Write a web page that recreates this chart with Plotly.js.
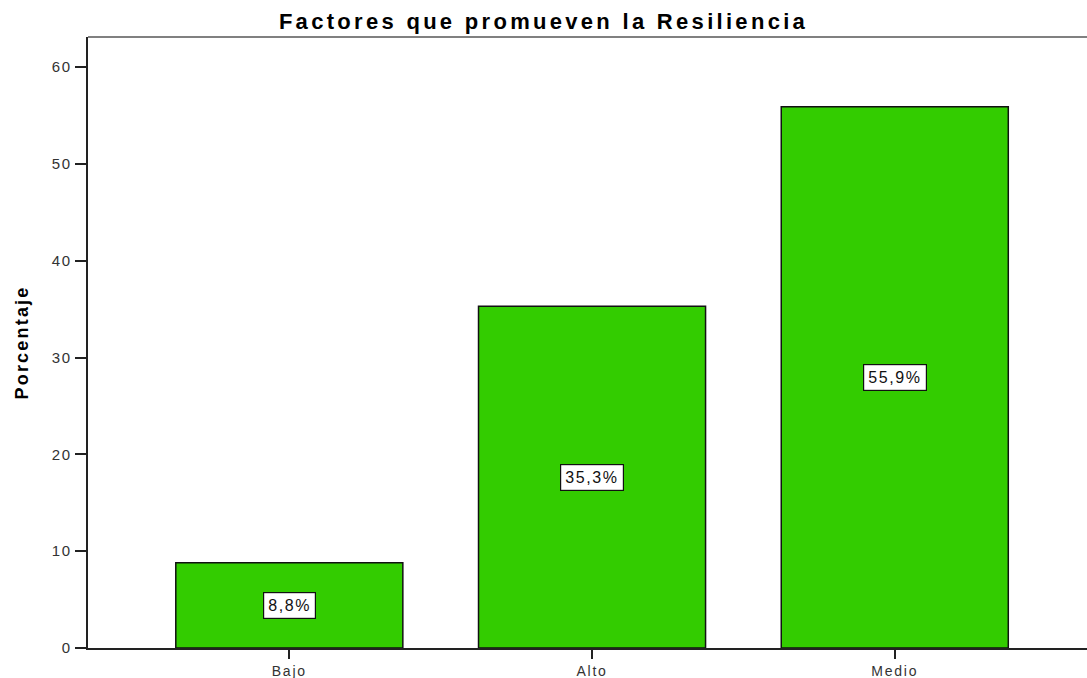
<!DOCTYPE html>
<html>
<head>
<meta charset="utf-8">
<script src="https://cdn.plot.ly/plotly-3.0.1.min.js"></script>
<style>
html,body{margin:0;padding:0;background:#fff;}
#chart{width:1087px;height:678px;}
.gtitle{letter-spacing:3.3px;}
.ytitle{letter-spacing:2.2px;}
.xtick text,.ytick text{letter-spacing:1.8px;}
text.annotation-text{letter-spacing:1.6px;}
</style>
</head>
<body>
<div id="chart"></div>
<script>
const categories = ["Bajo", "Alto", "Medio"];
const percentages = [8.8, 35.3, 55.9];
const barLabels = ["8,8%", "35,3%", "55,9%"];
const yTicks = [0, 10, 20, 30, 40, 50, 60];

const FONT = "Liberation Sans, Arial, sans-serif";

const trace = {
  type: "bar",
  x: categories,
  y: percentages,
  width: 0.75,
  marker: {color: "#33CC00", line: {color: "#111111", width: 1.5}},
  hoverinfo: "skip"
};

const annotations = categories.map((c, i) => ({
  x: c, y: percentages[i] / 2, xref: "x", yref: "y",
  text: barLabels[i], showarrow: false,
  font: {family: FONT, size: 16, color: "#111"},
  bgcolor: "#ffffff", bordercolor: "#111111", borderwidth: 1.2, borderpad: 4
}));

const layout = {
  width: 1087, height: 678,
  margin: {l: 88, r: 0, t: 37, b: 30},
  paper_bgcolor: "#ffffff", plot_bgcolor: "#ffffff",
  showlegend: false,
  title: {
    text: "<b>Factores que promueven la Resiliencia</b>",
    font: {family: FONT, size: 22, color: "#000"},
    x: 0.5, xanchor: "center", y: 0.968, yanchor: "middle", yref: "container"
  },
  xaxis: {
    type: "category", range: [-0.665, 2.635],
    showline: true, linecolor: "#222", linewidth: 2,
    ticks: "outside", ticklen: 9, tickwidth: 2, tickcolor: "#222",
    showgrid: false, zeroline: false,
    tickfont: {family: FONT, size: 14, color: "#333"}
  },
  yaxis: {
    range: [0, 63.1], tickvals: yTicks, ticktext: yTicks.map(String),
    showline: true, linecolor: "#222", linewidth: 2,
    ticks: "outside", ticklen: 11, tickwidth: 2, tickcolor: "#222",
    showgrid: false, zeroline: false,
    tickfont: {family: FONT, size: 15, color: "#333"},
    title: {text: "<b>Porcentaje</b>", font: {family: FONT, size: 18, color: "#000"}, standoff: 18}
  },
  shapes: [{type: "line", xref: "paper", yref: "paper", x0: 0, x1: 1, y0: 1, y1: 1, line: {color: "#808080", width: 2}}],
  annotations: annotations
};

Plotly.newPlot("chart", [trace], layout, {displayModeBar: false, staticPlot: true});
</script>
</body>
</html>
